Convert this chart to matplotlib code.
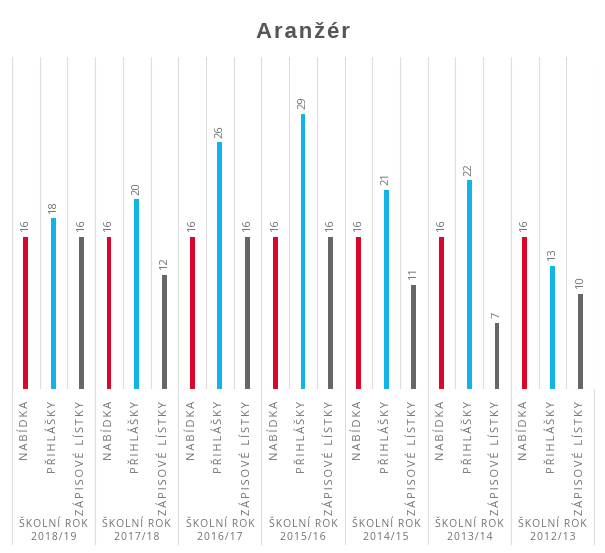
import matplotlib.pyplot as plt
from matplotlib.lines import Line2D

years = ["2018/19", "2017/18", "2016/17", "2015/16", "2014/15", "2013/14", "2012/13"]
series = ["NABÍDKA", "PŘIHLÁŠKY", "ZÁPISOVÉ LÍSTKY"]
nabidka = [16, 16, 16, 16, 16, 16, 16]
prihlasky = [18, 20, 26, 29, 21, 22, 13]
zapisove = [16, 12, 16, 16, 11, 7, 10]
colors = ["#d9072b", "#12b4e8", "#666666"]

fam = ["Open Sans", "DejaVu Sans"]


def spaced(s, sep="\u2009"):
    return sep.join(s)


fig = plt.figure(figsize=(6.05, 5.53), dpi=100)
ax = fig.add_axes([12 / 605, 1 - 389 / 553, 582 / 605, 332 / 553])

n = len(years) * 3
for g in range(len(years)):
    vals = [nabidka[g], prihlasky[g], zapisove[g]]
    for k in range(3):
        x = g * 3 + k
        ax.bar(x, vals[k], width=0.18, color=colors[k])
        ax.text(x, vals[k] + 0.5, str(vals[k]), rotation=90, ha="center", va="bottom",
                fontsize=8, color="#707070", family=fam)
        ax.text(x, -1.3, spaced(series[k]), rotation=90, ha="center", va="top",
                fontsize=8, color="#707070", family=fam)
    ax.text(g * 3 + 1, -16.2, spaced("ŠKOLNÍ ROK", "\u200a") + "\n" + spaced(years[g], "\u200a"),
            ha="center", va="bottom", fontsize=7.5, color="#707070", family=fam,
            linespacing=1.2)

for i in range(n + 1):
    ax.axvline(i - 0.5, color="#dddddd", lw=0.8, zorder=0)
    if i % 3 == 0:
        ax.add_line(Line2D([i - 0.5, i - 0.5], [0, -16.3], color="#dddddd", lw=0.8, clip_on=False))

ax.set_xlim(-0.5, n - 0.5)
ax.set_ylim(0, 35)
ax.axhline(0, color="#cccccc", lw=0.8)
for s in ax.spines.values():
    s.set_visible(False)
ax.set_xticks([])
ax.set_yticks([])

fig.text(0.5, 1 - 33 / 553, spaced("Aranžér", "\u200a"), ha="center", va="center", fontsize=16,
         fontweight="bold", color="#555555", family=["Liberation Sans", "DejaVu Sans"])

fig.savefig("out.png")
